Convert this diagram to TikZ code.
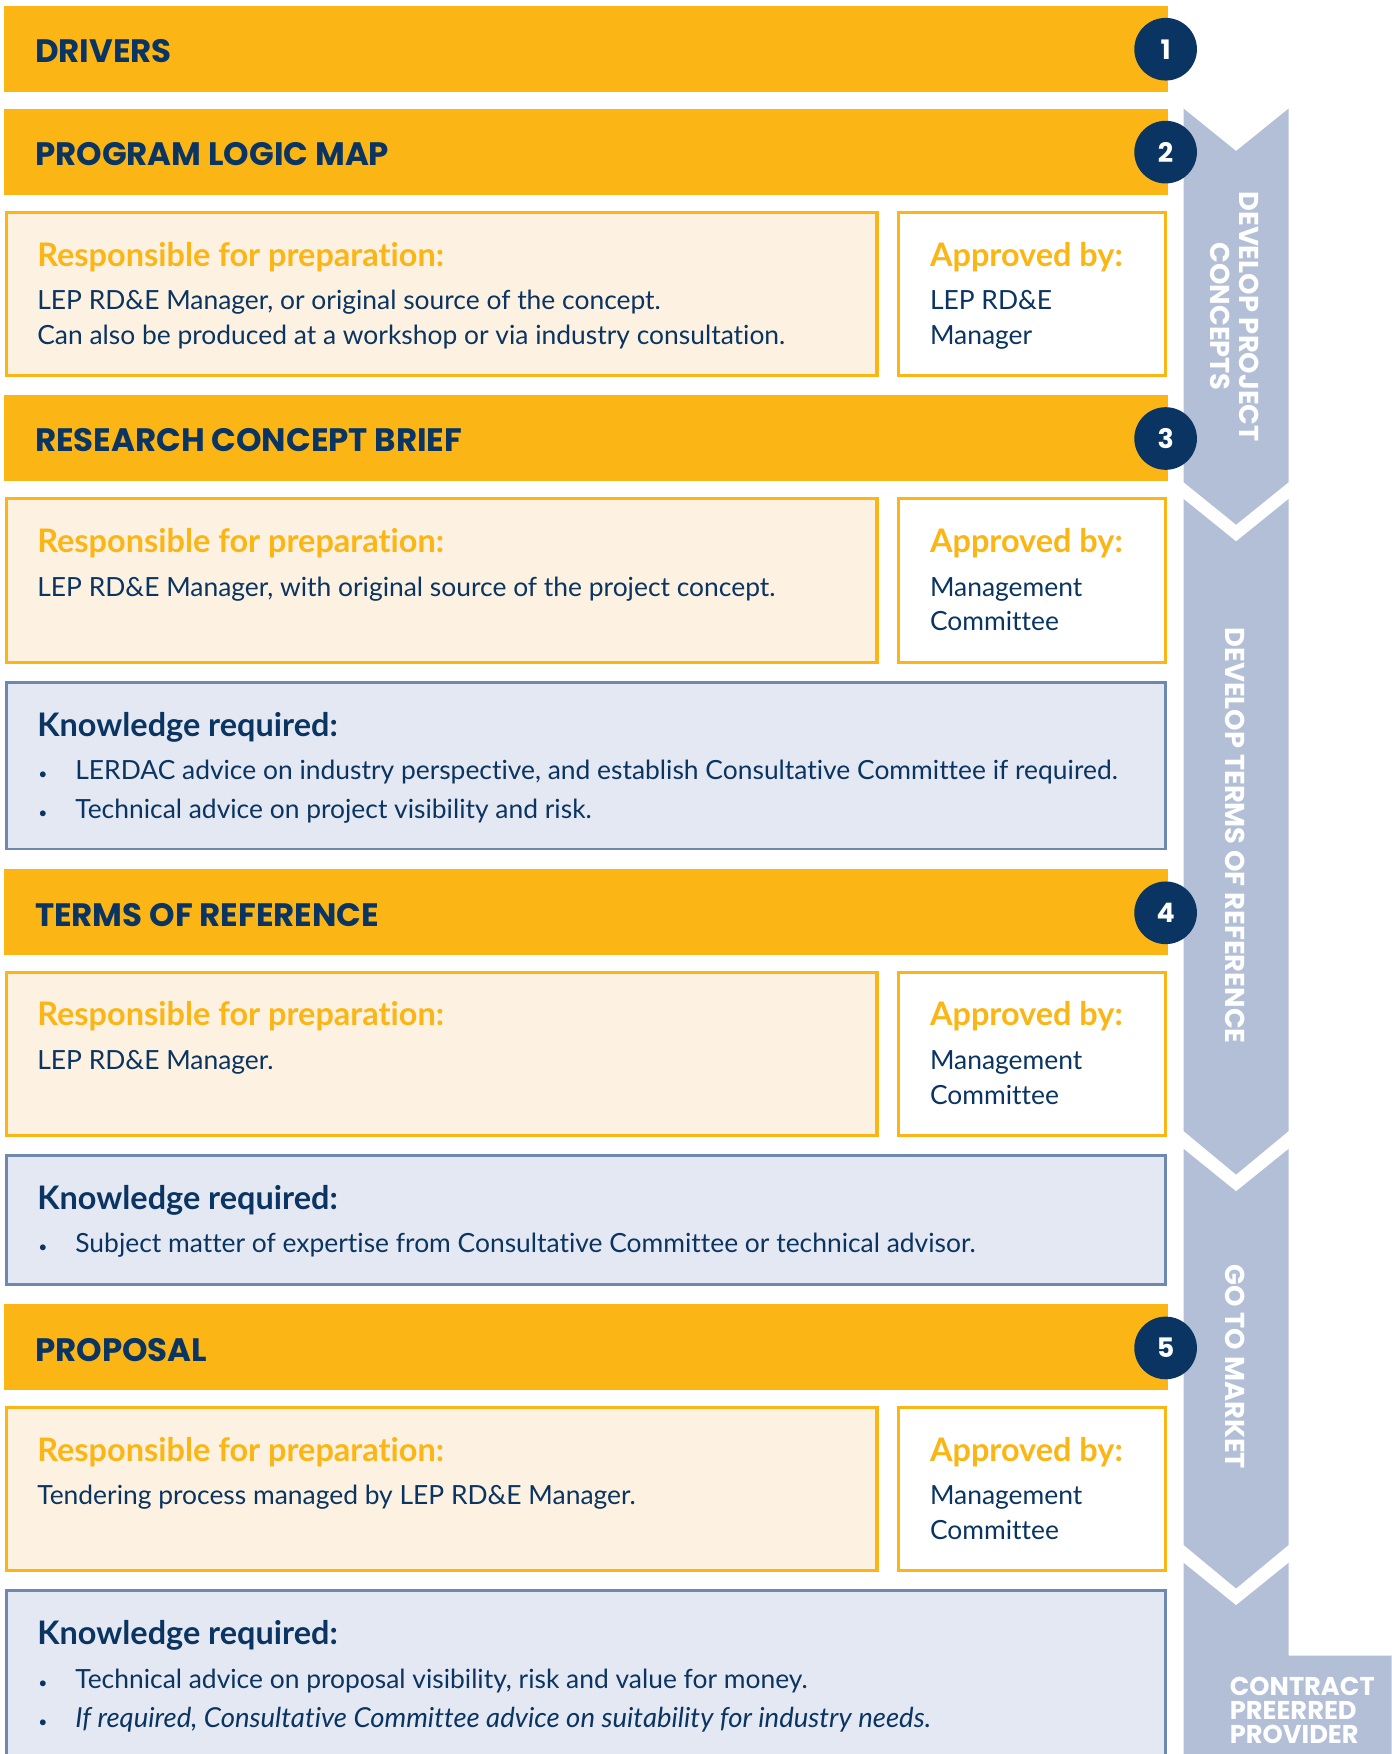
\documentclass[tikz,border=0pt]{standalone}
\usepackage{fontspec}
\setmainfont{Lato}[Ligatures=NoCommon]
\newfontfamily\headfont{Poppins}
\definecolor{barorange}{HTML}{FBB615}
\definecolor{navy}{HTML}{0A3461}
\definecolor{respfill}{HTML}{FDF2E2}
\definecolor{knowfill}{HTML}{E4E8F2}
\definecolor{knowedge}{HTML}{6F88B0}
\definecolor{band}{HTML}{B3BFD7}

\begin{document}
\begin{tikzpicture}[x=0.5pt,y=-0.5pt,
    bar/.style={fill=barorange},
    respbox/.style={draw=barorange,line width=1.4pt,fill=respfill},
    apprbox/.style={draw=barorange,line width=1.4pt,fill=white},
    knowbox/.style={draw=knowedge,line width=1.2pt,fill=knowfill},
    title/.style={anchor=mid west,inner sep=0pt,yshift=-3.5pt,text=navy,font=\headfont\bfseries\fontsize{14.5}{16}\selectfont},
    num/.style={circle,fill=navy,text=white,minimum size=28pt,inner sep=0pt,font=\headfont\bfseries\fontsize{12}{14}\selectfont},
    head/.style={anchor=mid west,inner sep=0pt,yshift=-2pt,text=barorange,font=\bfseries\fontsize{14.5}{17}\selectfont},
    khead/.style={anchor=mid west,inner sep=0pt,yshift=-2pt,text=navy,font=\bfseries\fontsize{14.5}{17}\selectfont},
    body/.style={anchor=mid west,inner sep=0pt,yshift=-2pt,text=navy,font=\fontsize{11.8}{14}\selectfont},
    dot/.style={anchor=mid west,inner sep=0pt,yshift=-2pt,text=navy,font=\fontsize{7}{8}\selectfont},
    bandtext/.style={text=white,inner sep=0pt,font=\headfont\bfseries\fontsize{12.2}{13}\selectfont}]
  \useasboundingbox (0,0) rectangle (1244,1568);

  % side band
  \fill[band] (1058,97) -- (1105,135) -- (1152,97) -- (1152,431) -- (1105,469) -- (1058,431) -- cycle;
  \fill[band] (1058,446) -- (1105,484) -- (1152,446) -- (1152,1011) -- (1105,1050) -- (1058,1011) -- cycle;
  \fill[band] (1058,1027) -- (1105,1065) -- (1152,1027) -- (1152,1381) -- (1105,1420) -- (1058,1381) -- cycle;
  \fill[band] (1058,1397) -- (1105,1435) -- (1152,1397) -- (1152,1480) -- (1244,1480) -- (1244,1568) -- (1058,1568) -- cycle;
  \node[bandtext,rotate=-90,align=center] (stage1) at (1104,283) {DEVELOP PROJECT\\CONCEPTS};
  \node[bandtext,rotate=-90] (stage2) at (1104,747) {DEVELOP TERMS OF REFERENCE};
  \node[bandtext,rotate=-90] (stage3) at (1104,1222) {GO TO MARKET};
  \node[bandtext,anchor=north west,align=left,font=\headfont\bfseries\fontsize{11.5}{10.6}\selectfont] (stage4) at (1099,1499) {CONTRACT\\PREERRED\\PROVIDER};

  % orange bars
  \foreach \n/\y/\txt in {1/5/DRIVERS,2/97/PROGRAM LOGIC MAP,3/353/RESEARCH CONCEPT BRIEF,4/777/TERMS OF REFERENCE,5/1166/PROPOSAL} {
    \fill[bar] (4,\y) rectangle (1044,\y+77);
    \node[title] (bar\n) at (31,\y+39) {\txt};
    \node[num] (num\n) at (1042,\y+39) {\n};
  }

  % program logic map
  \draw[respbox] (6,190) rectangle (784,336);
  \draw[apprbox] (803,190) rectangle (1042,336);
  \node[head] (resp2) at (33,229) {Responsible for preparation:};
  \node[body] (resp2a) at (33,268) {LEP RD\&E Manager, or original source of the concept.};
  \node[body] (resp2b) at (33,299) {Can also be produced at a workshop or via industry consultation.};
  \node[head] (appr2) at (831,229) {Approved by:};
  \node[body] (appr2a) at (831,268) {LEP RD\&E};
  \node[body] (appr2b) at (831,299) {Manager};

  % research concept brief
  \draw[respbox] (6,446) rectangle (784,592);
  \draw[apprbox] (803,446) rectangle (1042,592);
  \node[head] (resp3) at (33,485) {Responsible for preparation:};
  \node[body] (resp3a) at (33,524) {LEP RD\&E Manager, with original source of the project concept.};
  \node[head] (appr3) at (831,485) {Approved by:};
  \node[body] (appr3a) at (831,524) {Management};
  \node[body] (appr3b) at (831,555) {Committee};
  \draw[knowbox] (6,610) rectangle (1042,759);
  \node[khead] (know3) at (33,649) {Knowledge required:};
  \node[dot] (dot3a) at (34,688) {•};
  \node[body] (know3a) at (67,688) {LERDAC advice on industry perspective, and establish Consultative Committee if required.};
  \node[dot] (dot3b) at (34,723) {•};
  \node[body] (know3b) at (67,723) {Technical advice on project visibility and risk.};

  % terms of reference
  \draw[respbox] (6,869) rectangle (784,1015);
  \draw[apprbox] (803,869) rectangle (1042,1015);
  \node[head] (resp4) at (33,908) {Responsible for preparation:};
  \node[body] (resp4a) at (33,947) {LEP RD\&E Manager.};
  \node[head] (appr4) at (831,908) {Approved by:};
  \node[body] (appr4a) at (831,947) {Management};
  \node[body] (appr4b) at (831,978) {Committee};
  \draw[knowbox] (6,1033) rectangle (1042,1148);
  \node[khead] (know4) at (33,1072) {Knowledge required:};
  \node[dot] (dot4a) at (34,1111) {•};
  \node[body] (know4a) at (67,1111) {Subject matter of expertise from Consultative Committee or technical advisor.};

  % proposal
  \draw[respbox] (6,1258) rectangle (784,1404);
  \draw[apprbox] (803,1258) rectangle (1042,1404);
  \node[head] (resp5) at (33,1297) {Responsible for preparation:};
  \node[body] (resp5a) at (33,1336) {Tendering process managed by LEP RD\&E Manager.};
  \node[head] (appr5) at (831,1297) {Approved by:};
  \node[body] (appr5a) at (831,1336) {Management};
  \node[body] (appr5b) at (831,1367) {Committee};
  \fill[knowfill] (6,1422) rectangle (1042,1568);
  \draw[knowedge,line width=1.2pt] (6,1568) -- (6,1422) -- (1042,1422) -- (1042,1568);
  \node[khead] (know5) at (33,1461) {Knowledge required:};
  \node[dot] (dot5a) at (34,1500) {•};
  \node[body] (know5a) at (67,1500) {Technical advice on proposal visibility, risk and value for money.};
  \node[dot] (dot5b) at (34,1535) {•};
  \node[body,font=\itshape\fontsize{12.3}{14}\selectfont] (know5b) at (67,1535) {If required, Consultative Committee advice on suitability for industry needs.};
\end{tikzpicture}
\end{document}
